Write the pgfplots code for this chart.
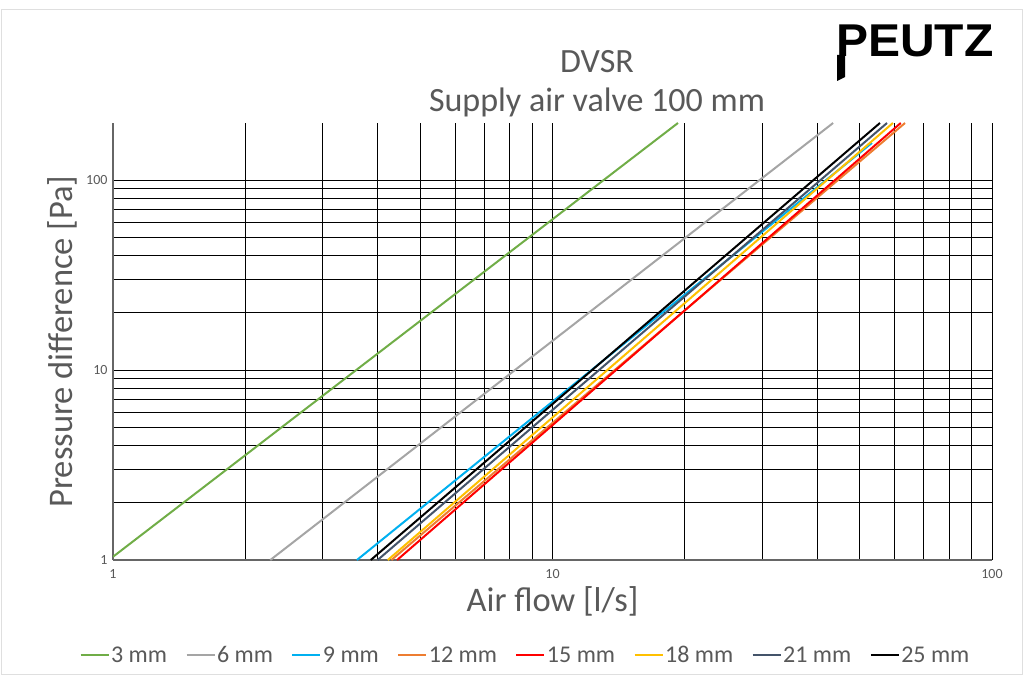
\documentclass[border=0pt]{standalone}
\usepackage{pgfplots}
\pgfplotsset{compat=1.18}
\usepackage{fontspec}
\usepackage{graphicx}
\setmainfont{Carlito}
\newfontfamily\logofont{Liberation Sans}
\definecolor{txt}{HTML}{595959}
\definecolor{cgreen}{HTML}{70AD47}
\definecolor{cgrey}{HTML}{A5A5A5}
\definecolor{cblue}{HTML}{00B0F0}
\definecolor{corange}{HTML}{ED7D31}
\definecolor{cred}{HTML}{FF0000}
\definecolor{cyellow}{HTML}{FFC000}
\definecolor{cdark}{HTML}{44546A}
\begin{document}
\begin{tikzpicture}[x=1pt,y=1pt]
\path (0,0) rectangle (1027,675);
\draw[gray!25, line width=1pt] (1,1) rectangle (1022,665);
\node[text=txt, font=\fontsize{34}{38}\selectfont] at (597,613) {DVSR};
\node[text=txt, font=\fontsize{34}{38}\selectfont] at (597,573) {Supply air valve 100 mm};
\node[anchor=south west, inner sep=0pt] (logo) at (836,618) {\scalebox{1.2}[1.15]{\logofont\bfseries\fontsize{40}{40}\selectfont PEUTZ}};
\fill[black] ([xshift=1pt,yshift=2pt]logo.south west) -- ++(8,0) -- ++(0,-22) -- ++(-8,-4) -- cycle;
\begin{axis}[
  at={(113pt,115pt)}, anchor=south west,
  scale only axis, width=879pt, height=437pt,
  xmode=log, ymode=log,
  xmin=1, xmax=100, ymin=1, ymax=200,
  xtick={1,10,100}, ytick={1,10,100},
  xticklabels={1,10,100}, yticklabels={1,10,100},
  grid=both,
  major grid style={draw=black, line width=1pt},
  minor grid style={draw=black, line width=1pt},
  axis lines*=left,
  axis line style={draw=gray!80!black, line width=1.2pt},
  tick style={draw=none},
  ticklabel style={text=txt, font=\fontsize{14}{16}\selectfont},
  xticklabel style={yshift=-6pt},
  yticklabel style={xshift=-2pt},
  xlabel={Air flow [l/s]},
  ylabel={Pressure difference [Pa]},
  label style={text=txt, font=\fontsize{34.5}{38}\selectfont},
  xlabel style={yshift=-1pt},
  ylabel style={yshift=2pt},
  legend columns=8,
  legend style={draw=none, fill=none, at={(0.469,-0.217)}, anchor=center,
    font=\fontsize{24}{26}\selectfont, text=txt,
    nodes={text height=17pt, text depth=1pt, inner sep=1.5pt},
    /tikz/every even column/.append style={column sep=17pt}},
  legend image code/.code={\draw[#1, line width=2pt] (0pt,0pt) -- (28pt,0pt);},
  every axis plot/.append style={line width=2pt},
]
\addplot[cgreen] coordinates {(1,1.04) (19.3,200)};
\addlegendentry{3 mm}
\addplot[cgrey] coordinates {(2.28,1) (43.5,200)};
\addlegendentry{6 mm}
\addplot[cblue] coordinates {(3.59,1) (53.3,157)};
\addlegendentry{9 mm}
\addplot[corange] coordinates {(4.3,1) (63.4,200)};
\addlegendentry{12 mm}
\addplot[cred] coordinates {(4.43,1) (62.0,200)};
\addlegendentry{15 mm}
\addplot[cyellow] coordinates {(4.22,1) (59.5,200)};
\addlegendentry{18 mm}
\addplot[cdark] coordinates {(4.0,1) (57.7,200)};
\addlegendentry{21 mm}
\addplot[black] coordinates {(3.86,1) (55.6,200)};
\addlegendentry{25 mm}
\end{axis}
\end{tikzpicture}
\end{document}
